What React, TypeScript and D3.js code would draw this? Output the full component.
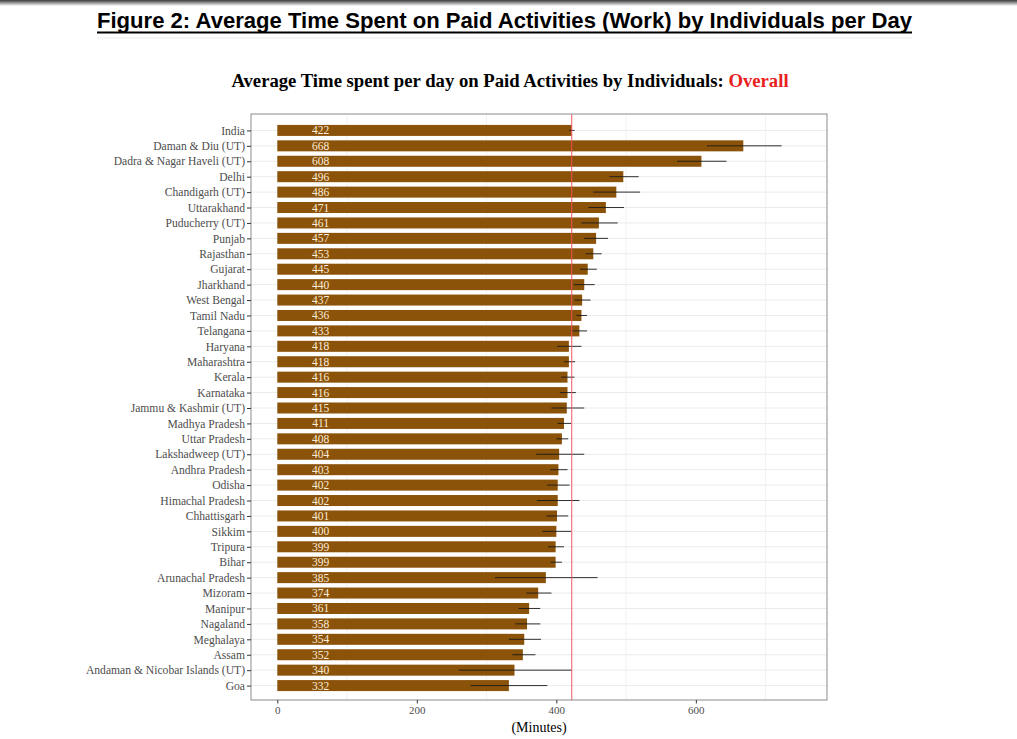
import { useRef, useEffect } from 'react';
import * as d3 from 'd3';

const categories = [
    'India', 'Daman & Diu (UT)', 'Dadra & Nagar Haveli (UT)', 'Delhi', 'Chandigarh (UT)',
    'Uttarakhand', 'Puducherry (UT)', 'Punjab', 'Rajasthan', 'Gujarat', 'Jharkhand',
    'West Bengal', 'Tamil Nadu', 'Telangana', 'Haryana', 'Maharashtra', 'Kerala',
    'Karnataka', 'Jammu & Kashmir (UT)', 'Madhya Pradesh', 'Uttar Pradesh',
    'Lakshadweep (UT)', 'Andhra Pradesh', 'Odisha', 'Himachal Pradesh', 'Chhattisgarh',
    'Sikkim', 'Tripura', 'Bihar', 'Arunachal Pradesh', 'Mizoram', 'Manipur', 'Nagaland',
    'Meghalaya', 'Assam', 'Andaman & Nicobar Islands (UT)', 'Goa',
];

const minutes = [
    422, 668, 608, 496, 486, 471, 461, 457, 453, 445, 440, 437, 436, 433, 418, 418, 416,
    416, 415, 411, 408, 404, 403, 402, 402, 401, 400, 399, 399, 385, 374, 361, 358, 354,
    352, 340, 332,
];

// error bar ends
const errLow = [
    418, 616, 573, 476, 453, 446, 436, 440, 442, 434, 425, 426, 429, 423, 401, 411, 407,
    405, 393, 402, 400, 371, 391, 387, 372, 386, 380, 388, 392, 312, 357, 346, 341, 332,
    337, 260, 277,
];
const errHigh = [
    426, 723, 644, 518, 520, 497, 488, 474, 465, 458, 455, 449, 444, 444, 436, 427, 426,
    428, 440, 421, 417, 440, 416, 419, 433, 417, 421, 411, 408, 459, 393, 377, 377, 378,
    370, 422, 387,
];

const xTicks = [0, 200, 400, 600];
const xMinor = [100, 300, 500, 700];
const referenceValue = 422;

export default function App() {
    const svgRef = useRef<SVGSVGElement>(null);

    useEffect(() => {
        if (!svgRef.current) return;
        const width = 1017;
        const height = 739;
        const panel = { left: 251, right: 827, top: 114, bottom: 700 };

        const svg = d3.select(svgRef.current)
            .attr('width', width)
            .attr('height', height);
        svg.selectAll('*').remove();

        svg.append('rect').attr('width', width).attr('height', height).attr('fill', '#fff');

        // dark strip at the very top of the page
        const grad = svg.append('defs').append('linearGradient')
            .attr('id', 'topShade').attr('x1', '0%').attr('y1', '0%').attr('x2', '0%').attr('y2', '100%');
        grad.append('stop').attr('offset', '0%').attr('stop-color', '#3a3a3a');
        grad.append('stop').attr('offset', '100%').attr('stop-color', '#ffffff');
        svg.append('rect').attr('width', width).attr('height', 6).attr('fill', 'url(#topShade)');

        // Page heading
        svg.append('text')
            .attr('x', 97)
            .attr('y', 28)
            .attr('font-family', '"Liberation Sans", Arial, sans-serif')
            .attr('font-weight', 'bold')
            .attr('font-size', '22.5px')
            .attr('textLength', 815)
            .attr('lengthAdjust', 'spacingAndGlyphs')
            .attr('fill', '#000')
            .text('Figure 2: Average Time Spent on Paid Activities (Work) by Individuals per Day');
        svg.append('line')
            .attr('x1', 97).attr('x2', 912).attr('y1', 32.5).attr('y2', 32.5)
            .attr('stroke', '#000').attr('stroke-width', 2);
        svg.append('line')
            .attr('x1', 97).attr('x2', 912).attr('y1', 38).attr('y2', 38)
            .attr('stroke', '#eeeeee').attr('stroke-width', 1);

        // Chart title
        const title = svg.append('text')
            .attr('x', 510)
            .attr('y', 87)
            .attr('text-anchor', 'middle')
            .attr('font-family', '"Liberation Serif", "Times New Roman", serif')
            .attr('font-weight', 'bold')
            .attr('font-size', '18.7px')
            .attr('fill', '#000');
        title.append('tspan').text('Average Time spent per day on Paid Activities by Individuals: ');
        title.append('tspan').attr('fill', '#e8211d').text('Overall');

        const x = d3.scaleLinear()
            .domain([-37.7, 788])
            .range([panel.left, panel.right]);

        const y = d3.scalePoint<string>()
            .domain(categories)
            .range([panel.top + 1, panel.bottom + 1])
            .padding(1);

        const barH = 11;
        const g = svg.append('g');

        // Grid
        g.selectAll('.hgrid')
            .data(categories)
            .enter()
            .append('line')
            .attr('x1', panel.left).attr('x2', panel.right)
            .attr('y1', d => y(d)!).attr('y2', d => y(d)!)
            .attr('stroke', '#ebebeb').attr('stroke-width', 1);
        g.selectAll('.vgrid')
            .data(xMinor)
            .enter()
            .append('line')
            .attr('x1', d => x(d)).attr('x2', d => x(d))
            .attr('y1', panel.top).attr('y2', panel.bottom)
            .attr('stroke', '#f2f2f2').attr('stroke-width', 1);

        // Bars
        g.selectAll('.bar')
            .data(categories)
            .enter()
            .append('rect')
            .attr('x', x(0))
            .attr('y', d => y(d)! - barH / 2)
            .attr('width', (_, i) => x(minutes[i]) - x(0))
            .attr('height', barH)
            .attr('fill', '#8b5209');

        // Value labels
        g.selectAll('.lbl')
            .data(categories)
            .enter()
            .append('text')
            .attr('x', x(62))
            .attr('y', d => y(d)! + 4)
            .attr('text-anchor', 'middle')
            .attr('font-family', '"Liberation Serif", "Times New Roman", serif')
            .attr('font-size', '11.5px')
            .attr('fill', '#fbeed8')
            .text((_, i) => String(minutes[i]));

        // Error bars
        g.selectAll('.err')
            .data(categories)
            .enter()
            .append('line')
            .attr('x1', (_, i) => x(errLow[i]))
            .attr('x2', (_, i) => x(errHigh[i]))
            .attr('y1', d => y(d)!).attr('y2', d => y(d)!)
            .attr('stroke', '#1a1a1a').attr('stroke-width', 0.9);

        // Reference line (India)
        g.append('line')
            .attr('x1', x(referenceValue)).attr('x2', x(referenceValue))
            .attr('y1', panel.top).attr('y2', panel.bottom)
            .attr('stroke', '#f0505a').attr('stroke-opacity', 0.8).attr('stroke-width', 1.2);

        // Panel border
        g.append('rect')
            .attr('x', panel.left).attr('y', panel.top)
            .attr('width', panel.right - panel.left).attr('height', panel.bottom - panel.top)
            .attr('fill', 'none').attr('stroke', '#8c8c8c').attr('stroke-width', 1);

        // X axis
        const xAxis = g.append('g')
            .attr('transform', `translate(0,${panel.bottom})`)
            .call(d3.axisBottom(x).tickValues(xTicks).tickSize(3.5).tickPadding(3).tickFormat(d3.format('d')));
        xAxis.select('.domain').remove();
        xAxis.selectAll('line').attr('stroke', '#333');
        xAxis.selectAll('text')
            .attr('fill', '#4d4d4d')
            .attr('font-family', '"Liberation Serif", "Times New Roman", serif')
            .attr('font-size', '11px');

        // Y axis
        const yAxis = g.append('g')
            .attr('transform', `translate(${panel.left},0)`)
            .call(d3.axisLeft(y).tickSize(4).tickPadding(2));
        yAxis.select('.domain').remove();
        yAxis.selectAll('line').attr('stroke', '#333');
        yAxis.selectAll('text')
            .attr('fill', '#4d4d4d')
            .attr('font-family', '"Liberation Serif", "Times New Roman", serif')
            .attr('font-size', '11.6px');

        // X label
        svg.append('text')
            .attr('x', 539)
            .attr('y', 732)
            .attr('text-anchor', 'middle')
            .attr('font-family', '"Liberation Serif", "Times New Roman", serif')
            .attr('font-size', '14px')
            .attr('fill', '#000')
            .text('(Minutes)');
    }, []);

    return (
        <svg ref={svgRef} style={{ position: 'absolute', left: 0, top: 0, display: 'block' }} />
    );
}
